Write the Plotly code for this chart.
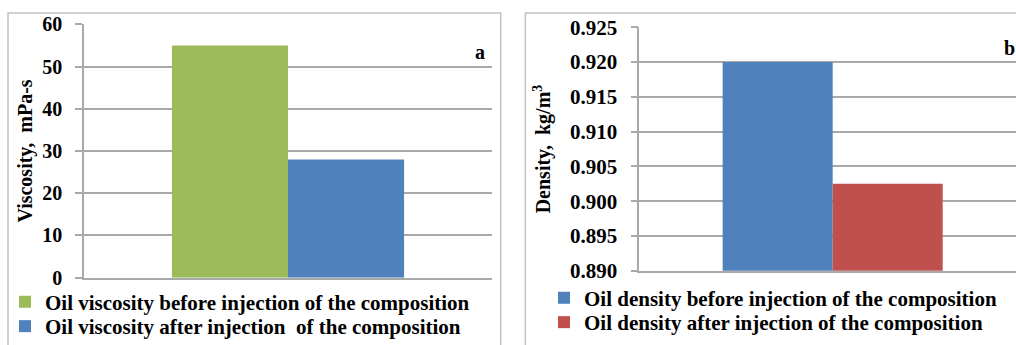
import plotly.graph_objects as go

# ---- data -------------------------------------------------------------
category = ["Oil"]

viscosity_labels = [
    "Oil viscosity before injection of the composition",
    "Oil viscosity after injection  of the composition",
]
viscosity_values = [55, 28]          # mPa·s
viscosity_colors = ["#9BBB59", "#4F81BD"]

density_labels = [
    "Oil density before injection of the composition",
    "Oil density after injection of the composition",
]
density_values = [0.920, 0.9025]     # kg/m3
density_colors = ["#4F81BD", "#C0504D"]

# ---- figure geometry (pixels) -------------------------------------------
W, H = 1016, 345
SERIF = "Liberation Serif"
GRID = "#a9a9a9"
FRAME = "#c4c4c4"


def px_x(v):
    return v / W


def px_y(v):
    return 1 - v / H


fig = go.Figure()

# one legend box per entry so the rows can sit close together
left_legends = ["legend", "legend2"]
right_legends = ["legend3", "legend4"]

for name, val, col, lg in zip(viscosity_labels, viscosity_values, viscosity_colors, left_legends):
    fig.add_trace(go.Bar(
        x=category, y=[val], name=name, marker=dict(color=col, line=dict(width=0)),
        xaxis="x", yaxis="y", legend=lg,
    ))

for name, val, col, lg in zip(density_labels, density_values, density_colors, right_legends):
    fig.add_trace(go.Bar(
        x=category, y=[val], name=name, marker=dict(color=col, line=dict(width=0)),
        xaxis="x2", yaxis="y2", legend=lg,
    ))

tick_font_l = dict(family=SERIF, size=20, color="#000000", weight="bold")
tick_font_r = dict(family=SERIF, size=21, color="#000000", weight="bold")
title_font = dict(family=SERIF, size=20, color="#000000", weight="bold")
legend_font = dict(family=SERIF, size=21, color="#000000", weight="bold")

common_x = dict(
    type="category", showticklabels=False, ticks="", showgrid=False,
    showline=True, linecolor=GRID, linewidth=1.5, fixedrange=True,
    automargin=False,
)
common_y = dict(
    showline=True, linecolor=GRID, linewidth=1.5,
    ticks="outside", ticklen=7, tickcolor=GRID, tickwidth=1.5,
    showgrid=True, gridcolor=GRID, gridwidth=1.5, zeroline=False,
    ticklabelstandoff=9, automargin=False,
)


def legend_box(x_px, y_px):
    return dict(
        x=px_x(x_px), y=px_y(y_px), xanchor="left", yanchor="middle",
        font=legend_font, bgcolor="rgba(0,0,0,0)", borderwidth=0,
    )


fig.update_layout(
    width=W, height=H,
    margin=dict(l=0, r=0, t=0, b=0, autoexpand=False),
    paper_bgcolor="white", plot_bgcolor="white",
    barmode="group", bargap=0.431, bargroupgap=0,
    xaxis=dict(domain=[px_x(84), px_x(492)], range=[-0.5, 0.5], anchor="y", **common_x),
    yaxis=dict(
        domain=[px_y(277.7), px_y(24.3)], range=[0, 60], dtick=10, anchor="x",
        tickfont=tick_font_l,
        title=dict(text="Viscosity,  mPa-s", font=title_font, standoff=4),
        **common_y,
    ),
    xaxis2=dict(domain=[px_x(639.3), 1], range=[-0.5, 0.474], anchor="y2", **common_x),
    yaxis2=dict(
        domain=[px_y(270.7), px_y(27.3)], range=[0.890, 0.925], dtick=0.005,
        tickformat=".3f", anchor="x2",
        tickfont=tick_font_r,
        title=dict(text="Density,  kg/m<sup>3</sup>", font=title_font, standoff=14),
        **common_y,
    ),
    legend=legend_box(5, 302),
    legend2=legend_box(5, 326.5),
    legend3=legend_box(544, 298),
    legend4=legend_box(544, 322.5),
    showlegend=True,
)

# panel frames
fig.add_shape(type="rect", xref="paper", yref="paper",
              x0=px_x(8), x1=px_x(500.7), y0=-0.2, y1=px_y(13),
              line=dict(color=FRAME, width=1.5), layer="below")
fig.add_shape(type="rect", xref="paper", yref="paper",
              x0=px_x(525.3), x1=1.2, y0=-0.2, y1=px_y(13),
              line=dict(color=FRAME, width=1.5), layer="below")

# panel letters
fig.add_annotation(text="a", xref="paper", yref="paper", x=px_x(480), y=px_y(52),
                   xanchor="center", yanchor="middle", showarrow=False,
                   font=dict(family=SERIF, size=20, color="#000000", weight="bold"))
fig.add_annotation(text="b", xref="paper", yref="paper", x=px_x(1009), y=px_y(48),
                   xanchor="center", yanchor="middle", showarrow=False,
                   font=dict(family=SERIF, size=20, color="#000000", weight="bold"))

fig.write_html("out.html", config={"displayModeBar": False})
